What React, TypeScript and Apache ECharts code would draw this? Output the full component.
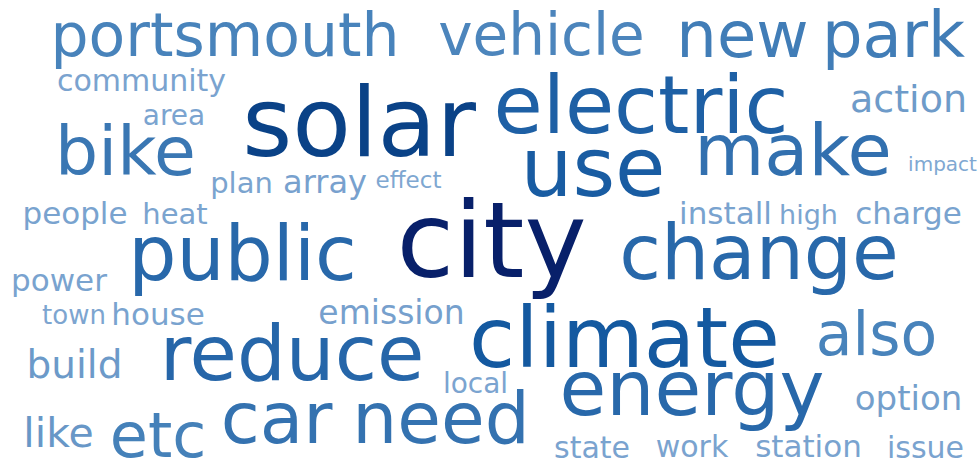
import React, { useEffect, useRef } from "react";
import * as echarts from "echarts";

// Words of the cloud and their weights (relative frequency -> font size)
const words = [
  "city", "solar", "climate", "electric", "use", "reduce", "public", "change",
  "energy", "make", "car", "need", "bike", "new", "park", "etc", "portsmouth",
  "also", "vehicle", "like", "build", "action", "option", "emission", "array",
  "install", "power", "house", "charge", "station", "people", "community",
  "state", "work", "issue", "plan", "heat", "area", "local", "high", "town",
  "effect", "impact",
];

const weights = [
  105, 96, 84, 80, 82, 77, 76, 76,
  76, 72, 71, 71, 68, 64, 64, 62, 60,
  60, 58, 41, 39, 38, 34, 33, 32,
  31, 31, 31, 31, 31, 31, 30,
  30, 30, 30, 29, 29, 28, 28, 27, 26,
  23, 20,
];

// Layout of the cloud: centre of each word on the canvas grid (x, y)
const wordPositions: [number, number][] = [
  [491.5, 240.7], [359, 122.8], [624.5, 337.9], [641, 105.3], [593, 167.6],
  [292, 353.4], [242.5, 253.7], [759, 252.7], [692, 388.7], [793, 150.1],
  [276.5, 418.4], [441, 418.4], [125.5, 151.5], [742.5, 34.9], [893.5, 34.9],
  [158, 435.5], [225, 35.2], [876.5, 334.2], [541.5, 34.9], [58.5, 432.8],
  [74.5, 364.5], [908.5, 98.9], [908.5, 398.2], [391.5, 312.6], [325, 181.9],
  [725.5, 213.3], [59, 280.3], [158, 314.3], [908.5, 213.3], [808.5, 446.3],
  [75, 213.3], [141.5, 80.6], [592, 447.6], [692, 446.6], [925.5, 447.6],
  [241.5, 183], [175, 214], [174, 115.3], [475.5, 383.3], [808.5, 214.7],
  [74, 315], [408.5, 180], [942.5, 164.1],
];

const palette = [
  "#80a8d2", "#7aa3cf", "#6897c7", "#578cc1", "#4480b9",
  "#306eae", "#1459a0", "#0a488c", "#08206a",
];

const WIDTH = 978;
const HEIGHT = 466;

export default function App() {
  const ref = useRef<HTMLDivElement>(null);

  useEffect(() => {
    document.body.style.margin = "0";
    if (!ref.current) return;
    const chart = echarts.init(ref.current, undefined, { renderer: "svg" });
    const wMin = Math.min(...weights);
    const wMax = Math.max(...weights);

    const data = words.map((w, i) => {
      const weight = weights[i];
      const t = (weight - wMin) / (wMax - wMin);
      const color = echarts.color.lerp(t, palette) as string;
      return {
        name: w,
        value: [wordPositions[i][0], wordPositions[i][1], weight],
        label: {
          fontSize: weight,
          color,
        },
      };
    });

    chart.setOption({
      animation: false,
      backgroundColor: "#ffffff",
      grid: { left: 0, right: 0, top: 0, bottom: 0 },
      xAxis: { type: "value", min: 0, max: WIDTH, show: false },
      yAxis: { type: "value", min: 0, max: HEIGHT, inverse: true, show: false },
      series: [
        {
          type: "scatter",
          symbolSize: 0,
          silent: true,
          itemStyle: { opacity: 1 },
          data,
          label: {
            show: true,
            position: "inside",
            align: "center",
            verticalAlign: "middle",
            opacity: 1,
            fontFamily: "DejaVu Sans",
            formatter: (p: any) => p.name,
          },
          emphasis: { disabled: true },
        },
      ],
    });

    return () => chart.dispose();
  }, []);

  return <div ref={ref} style={{ width: WIDTH, height: HEIGHT }} />;
}
